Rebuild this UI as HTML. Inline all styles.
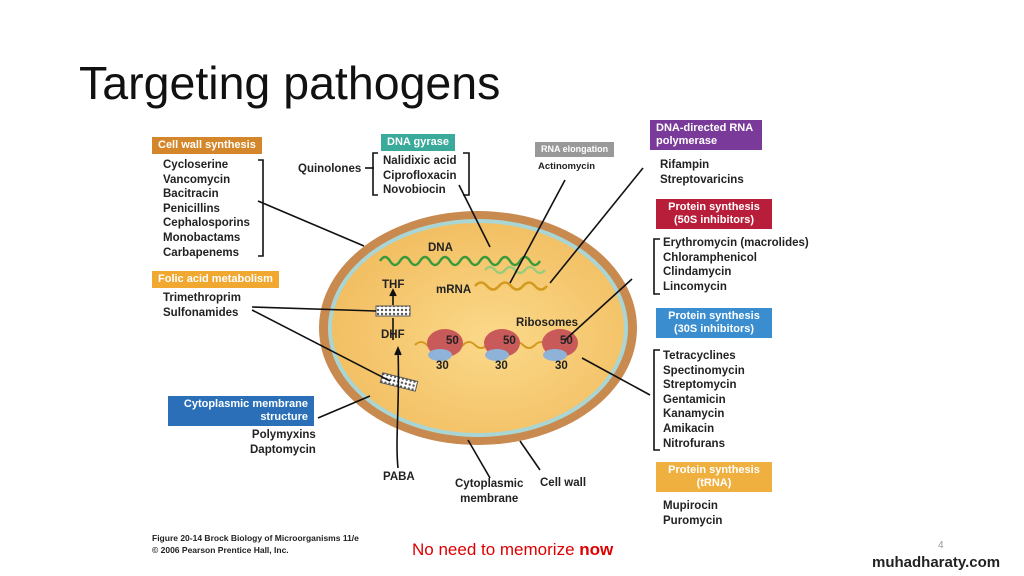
<!DOCTYPE html>
<html><head><meta charset="utf-8"><style>
body{margin:0;width:1024px;height:576px;background:#fff;position:relative;overflow:hidden;font-family:"Liberation Sans",sans-serif}
.t{position:absolute;font-size:11.5px;font-weight:bold;color:#222;line-height:14.6px}
.h{position:absolute;color:#fff;font-weight:bold;font-size:11px;padding:2px 6px;line-height:13px}
</style></head><body>
<div style="position:absolute;left:79px;top:56px;font-size:46.5px;color:#111">Targeting pathogens</div>
<svg style="position:absolute;left:0;top:0" width="1024" height="576">
<defs><radialGradient id="g" cx="0.55" cy="0.55" r="0.7"><stop offset="0" stop-color="#fbd98a"/><stop offset="1" stop-color="#f0b858"/></radialGradient>
<pattern id="p" width="4" height="4" patternUnits="userSpaceOnUse"><rect width="4" height="4" fill="#fff"/><circle cx="2" cy="2" r="1.2" fill="#555"/></pattern></defs>
<ellipse cx="478" cy="328" rx="159" ry="117" fill="#c98a4f"/>
<ellipse cx="478" cy="328" rx="150" ry="109" fill="#a9d6d4"/>
<ellipse cx="478" cy="328" rx="146" ry="105" fill="url(#g)"/>
<g fill="none" stroke-width="2.5">
<path d="M380 261 q5 -8 10 0 t10 0 t10 0 t10 0 t10 0 t10 0 t10 0 t10 0 t10 0 t10 0 t10 0 t10 0 t10 0 t10 0 t10 0 t10 0" stroke="#3a9a3a"/>
<path d="M485 270 q5 -6 10 0 t10 0 t10 0 t10 0 t10 0 t10 0" stroke="#9ccc7a"/>
<path d="M475 286 q6 -7 12 0 t12 0 t12 0 t12 0 t12 0 t12 0" stroke="#d49a20"/>
<path d="M415 345 q6 -6 12 0 t12 0 t12 0 t12 0 t12 0 t12 0 t12 0 t12 0 t12 0 t12 0 t12 0 t12 0 t12 0" stroke="#d49a20" stroke-width="2"/>
</g>
<g fill="#c85a5a"><ellipse cx="445" cy="343" rx="18" ry="14"/><ellipse cx="502" cy="343" rx="18" ry="14"/><ellipse cx="560" cy="343" rx="18" ry="14"/></g>
<g fill="#8fb3d8"><ellipse cx="440" cy="355" rx="12" ry="6"/><ellipse cx="497" cy="355" rx="12" ry="6"/><ellipse cx="555" cy="355" rx="12" ry="6"/></g>
<rect x="376" y="306" width="34" height="10" fill="url(#p)" stroke="#555"/>
<rect x="381" y="377" width="36" height="10" fill="url(#p)" stroke="#555" transform="rotate(14 399 382)"/>
<g stroke="#111" stroke-width="1.6" fill="none">
<path d="M393 305 V292"/><path d="M390 296 l3 -6 3 6" fill="#111"/>
<path d="M393 340 V318"/>
<path d="M398 468 C395 440 400 400 398 350"/><path d="M395 355 l3 -7 3 7" fill="#111"/>
<path d="M258 201 L364 246"/><path d="M252 307 L376 311"/><path d="M252 310 L390 381"/>
<path d="M318 418 L370 396"/><path d="M459 185 L490 247"/><path d="M565 180 L510 283"/>
<path d="M643 168 L550 283"/><path d="M632 279 L565 340"/><path d="M582 358 L650 395"/>
<path d="M468 440 L490 478"/><path d="M520 441 L540 470"/>
<path d="M365 168 H374"/>
<path d="M258 160 h5 v96 h-5"/><path d="M378 153 h-5 v42 h5"/><path d="M463 153 h6 v42 h-6"/>
<path d="M660 239 h-6 v55 h6"/><path d="M660 350 h-6 v100 h6"/>
</g>
</svg>
<div class="h" style="left:152px;top:137px;background:#d4862a">Cell wall synthesis</div>
<div class="t" style="left:163px;top:158px">Cycloserine<br>Vancomycin<br>Bacitracin<br>Penicillins<br>Cephalosporins<br>Monobactams<br>Carbapenems</div>
<div class="h" style="left:152px;top:271px;background:#f0a830">Folic acid metabolism</div>
<div class="t" style="left:163px;top:291px">Trimethroprim<br>Sulfonamides</div>
<div class="h" style="left:168px;top:396px;background:#2a6fb8;text-align:right;width:134px">Cytoplasmic membrane<br>structure</div>
<div class="t" style="left:250px;top:428px;text-align:right">Polymyxins<br>Daptomycin</div>
<div class="h" style="left:381px;top:134px;background:#3aaa9a">DNA gyrase</div>
<div class="t" style="left:298px;top:162px">Quinolones</div>
<div class="t" style="left:383px;top:154px">Nalidixic acid<br>Ciprofloxacin<br>Novobiocin</div>
<div class="h" style="left:535px;top:142px;background:#999;font-size:9px;line-height:11px">RNA elongation</div>
<div class="t" style="left:538px;top:160px;font-size:9.5px">Actinomycin</div>
<div class="h" style="left:650px;top:120px;background:#7a3a9a;width:100px">DNA-directed RNA<br>polymerase</div>
<div class="t" style="left:660px;top:158px">Rifampin<br>Streptovaricins</div>
<div class="h" style="left:656px;top:199px;background:#b81e3a;text-align:center;width:104px">Protein synthesis<br>(50S inhibitors)</div>
<div class="t" style="left:663px;top:236px">Erythromycin (macrolides)<br>Chloramphenicol<br>Clindamycin<br>Lincomycin</div>
<div class="h" style="left:656px;top:308px;background:#3a8ed0;text-align:center;width:104px">Protein synthesis<br>(30S inhibitors)</div>
<div class="t" style="left:663px;top:349px">Tetracyclines<br>Spectinomycin<br>Streptomycin<br>Gentamicin<br>Kanamycin<br>Amikacin<br>Nitrofurans</div>
<div class="h" style="left:656px;top:462px;background:#f0b040;text-align:center;width:104px">Protein synthesis<br>(tRNA)</div>
<div class="t" style="left:663px;top:499px">Mupirocin<br>Puromycin</div>
<div class="t" style="left:428px;top:241px">DNA</div>
<div class="t" style="left:436px;top:283px">mRNA</div>
<div class="t" style="left:382px;top:278px">THF</div>
<div class="t" style="left:381px;top:328px">DHF</div>
<div class="t" style="left:516px;top:316px">Ribosomes</div>
<div class="t" style="left:446px;top:334px">50</div><div class="t" style="left:503px;top:334px">50</div><div class="t" style="left:560px;top:334px">50</div>
<div class="t" style="left:436px;top:359px">30</div><div class="t" style="left:495px;top:359px">30</div><div class="t" style="left:555px;top:359px">30</div>
<div class="t" style="left:383px;top:470px">PABA</div>
<div class="t" style="left:455px;top:477px;text-align:center">Cytoplasmic<br>membrane</div>
<div class="t" style="left:540px;top:476px">Cell wall</div>
<div class="t" style="left:152px;top:532px;font-size:8.5px;line-height:12px">Figure 20-14 Brock Biology of Microorganisms 11/e<br>© 2006 Pearson Prentice Hall, Inc.</div>
<div style="position:absolute;left:412px;top:540px;font-size:17px;color:#d00">No need to memorize <b>now</b></div>
<div style="position:absolute;left:938px;top:540px;font-size:10px;color:#999">4</div>
<div style="position:absolute;left:872px;top:554px;font-size:15px;font-weight:bold;color:#222">muhadharaty.com</div>
</body></html>
